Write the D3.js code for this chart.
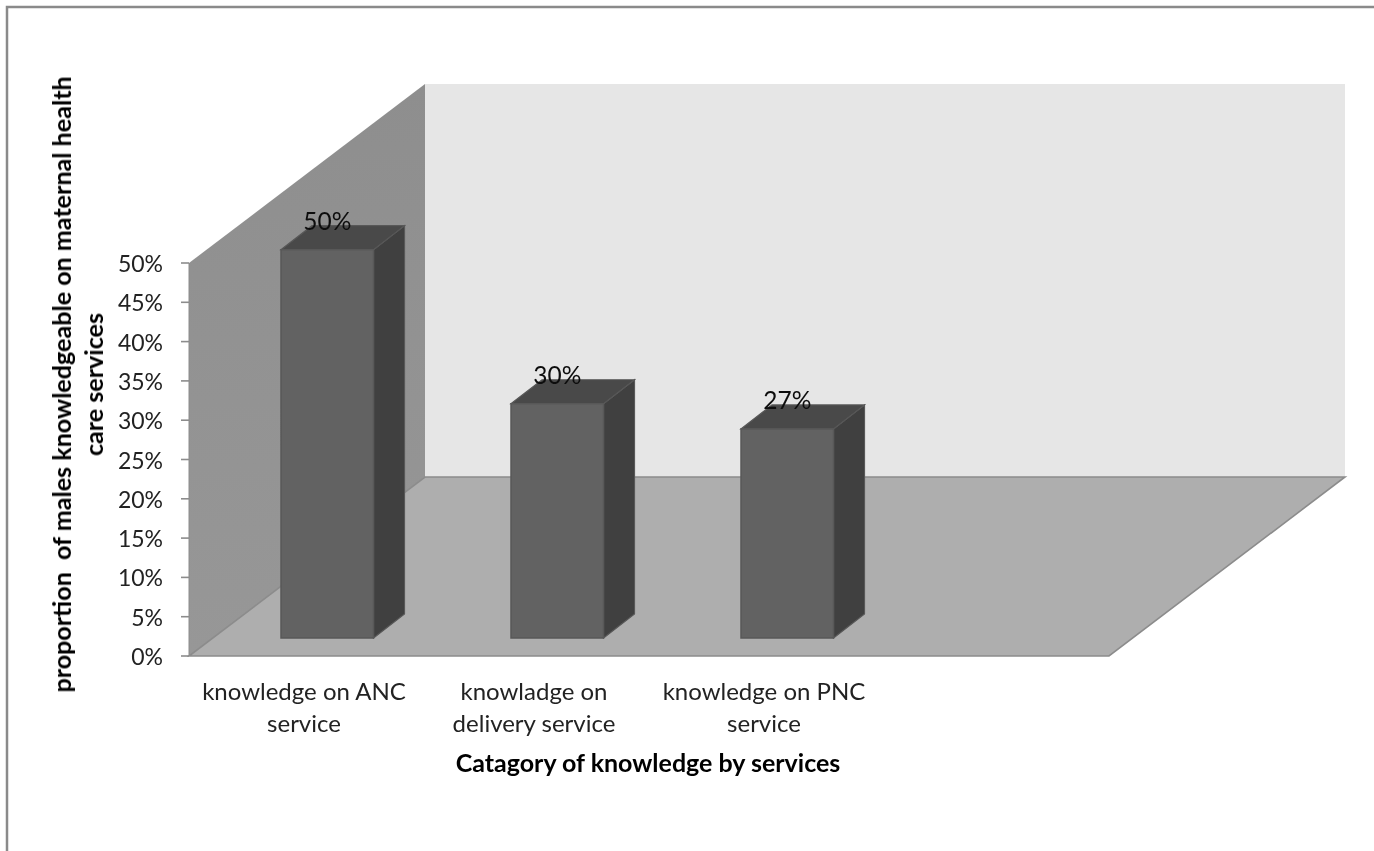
<!DOCTYPE html>
<html><head><meta charset="utf-8">
<script src="https://cdn.jsdelivr.net/npm/d3@7/dist/d3.min.js"></script>
<style>html,body{margin:0;padding:0;background:#fff}svg{display:block}text{font-family:Lato,"Open Sans",sans-serif}</style>
</head><body><svg id="c" width="1374" height="851"></svg>
<script>
const categories = [["knowledge on ANC","service"],["knowladge on","delivery service"],["knowledge on PNC","service"],[""]];
const values = [49.4, 29.8, 26.6];
const valueLabels = ["50%","30%","27%"];
const yTicks = [0,5,10,15,20,25,30,35,40,45,50];
const yTitle = ["proportion  of males knowledgeable on maternal health","care services"];
const xTitle = "Catagory of knowledge by services";

const svg = d3.select("#c");
const x = d3.scaleBand().domain(d3.range(categories.length)).range([189,1109]);
const y = d3.scaleLinear().domain([0,50]).range([656,263]);
const depth = {dx:236, dy:-179};
const barDepth = {dx:31, dy:-24};
const barBase = 638, barW = 92.5;
const line = d3.line();
const poly = (sel,pts,fill,stroke,sw)=>sel.append("path").attr("d",line(pts)+"Z").attr("fill",fill).attr("stroke",stroke||"none").attr("stroke-width",sw||0);

const defs = svg.append("defs");
const g1 = defs.append("linearGradient").attr("id","wall").attr("x1",0).attr("x2",0).attr("y1",0).attr("y2",1);
g1.append("stop").attr("offset",0).attr("stop-color","#8e8e8e");
g1.append("stop").attr("offset",1).attr("stop-color","#979797");
defs.append("filter").attr("id","soft").append("feGaussianBlur").attr("stdDeviation",0.45);
defs.append("filter").attr("id","softText").append("feGaussianBlur").attr("stdDeviation",0.35);

// frame
svg.append("path").attr("d",line([[7,851],[7,7],[1374,7]])).attr("fill","none").attr("stroke","#8a8a8a").attr("stroke-width",2.5);

const plot = svg.append("g").attr("filter","url(#soft)");
const x0=x.range()[0], x1=x.range()[1], y0=y(0), yT=y(50);
poly(plot,[[x0+depth.dx,yT+depth.dy],[x1+depth.dx,yT+depth.dy],[x1+depth.dx,y0+depth.dy],[x0+depth.dx,y0+depth.dy]],"#e6e6e6");
poly(plot,[[x0,yT],[x0+depth.dx,yT+depth.dy],[x0+depth.dx,y0+depth.dy],[x0,y0]],"url(#wall)");
poly(plot,[[x0,y0],[x1,y0],[x1+depth.dx,y0+depth.dy],[x0+depth.dx,y0+depth.dy]],"#aeaeae","#8c8c8c",1.6);
plot.selectAll("line.t").data(yTicks).join("line").attr("class","t")
  .attr("x1",x0-8).attr("x2",x0).attr("y1",d=>y(d)).attr("y2",d=>y(d)).attr("stroke","#8c8c8c").attr("stroke-width",1.6);
plot.append("line").attr("x1",x0).attr("x2",x0).attr("y1",yT).attr("y2",y0).attr("stroke","#8c8c8c").attr("stroke-width",1);

const bars = plot.selectAll("g.b").data(values).join("g").attr("class","b");
bars.each(function(v,i){
  const s=d3.select(this), l=x(i)+x.bandwidth()*0.4, r=l+barW, h=y(0)-y(v), t=barBase-h;
  const d=barDepth;
  poly(s,[[r,t],[r+d.dx,t+d.dy],[r+d.dx,barBase+d.dy],[r,barBase]],"#3f3f3f","#585858",1.2);
  poly(s,[[l,t],[r,t],[r+d.dx,t+d.dy],[l+d.dx,t+d.dy]],"#494949","#585858",1.2);
  poly(s,[[l,t],[r,t],[r,barBase],[l,barBase]],"#626262","#585858",1.5);
});

const tg = svg.append("g").attr("filter","url(#softText)");
const tc="#222";
tg.selectAll("text.yl").data(yTicks).join("text").attr("class","yl")
  .attr("x",163).attr("y",d=>y(d)+9).attr("text-anchor","end").attr("font-size",23).attr("fill",tc).text(d=>d+"%");
tg.selectAll("text.v").data(values).join("text").attr("class","v")
  .attr("x",(d,i)=>x(i)+x.bandwidth()*0.4+barW/2).attr("y",d=>barBase-(y(0)-y(d))-20)
  .attr("text-anchor","middle").attr("font-size",24.5).attr("fill","#111").text((d,i)=>valueLabels[i]);
const cat = tg.selectAll("text.c").data(categories).join("text").attr("class","c")
  .attr("x",(d,i)=>x(i)+x.bandwidth()/2).attr("text-anchor","middle").attr("font-size",24).attr("fill",tc);
cat.selectAll("tspan").data(d=>d).join("tspan").attr("x",function(){return d3.select(this.parentNode).attr("x")})
  .attr("y",(d,i)=>700+i*32).text(d=>d);
tg.append("text").attr("x",648).attr("y",772).attr("text-anchor","middle").attr("font-size",25).attr("font-weight",700).attr("fill","#000").text(xTitle);
tg.selectAll("text.yt").data(yTitle).join("text").attr("class","yt")
  .attr("transform",(d,i)=>`translate(${71+i*32},384.5) rotate(-90)`).attr("text-anchor","middle")
  .attr("font-size",25.1).attr("font-weight",700).attr("fill","#000").style("white-space","pre").text(d=>d);
</script></body></html>
